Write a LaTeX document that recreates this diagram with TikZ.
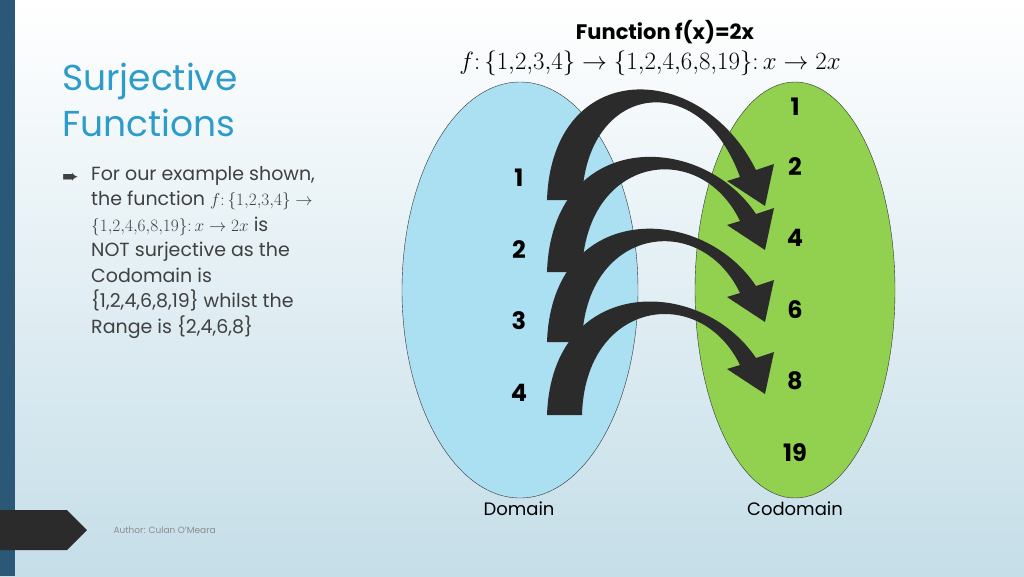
\documentclass[tikz,border=0pt]{standalone}
\usepackage{fontspec}
\setmainfont{Poppins}
\setsansfont{Poppins}
\newfontfamily\symfont{DejaVu Sans}
\definecolor{bgbot}{HTML}{C5DEE8}
\definecolor{barblue}{HTML}{2B5877}
\definecolor{titleblue}{HTML}{2E9CCB}
\definecolor{domblue}{HTML}{ABDFF2}
\definecolor{codgreen}{HTML}{92D050}
\definecolor{arrowgray}{HTML}{2B2B2B}
\tikzset{
  num/.style={font=\fontsize{24}{24}\selectfont\bfseries, text=black},
  setlabel/.style={font=\fontsize{18}{18}\selectfont, text=black},
  body/.style={font=\fontsize{19}{25.5}\selectfont, text=black!75, align=left, anchor=north west, inner sep=0pt}
}
% curved block arrow: base y, apex y, tip y
\newcommand{\maparrow}[3]{%
  \fill[arrowgray] (547,#1) .. controls (552,#2-30) and (700,#2-30) .. (756,#3-36)
    -- (774,#3-42) -- (765,#3) -- (727,#3-25) -- (740,#3-29)
    .. controls (700,#2-22) and (585,#2-5) .. (582,#1) -- cycle;}
\begin{document}
\begin{tikzpicture}[x=1pt,y=-1pt]
\shade[top color=white, bottom color=bgbot] (0,0) rectangle (1024,576);
\useasboundingbox (0,0) rectangle (1024,576);
\fill[barblue] (0,0) rectangle (15,576);
\fill[arrowgray] (0,510) -- (67,510) -- (87,530) -- (67,550) -- (0,550) -- cycle;
\node[font=\fontsize{9}{9}\selectfont, text=black!45, anchor=west] (author) at (110,530) {Author: Culan O'Meara};

% title and text
\node[font=\fontsize{36}{46}\selectfont, text=titleblue, align=left, anchor=north west, inner sep=0pt] (title) at (62,63) {Surjective\\Functions};
\node[font=\fontsize{20}{20}\selectfont\symfont, text=black!75, anchor=west, inner sep=0pt] (bullet) at (62,178) {➨};
\node[body] (text) at (91,166) {For our example shown,\\the function $f\colon\{1{,}2{,}3{,}4\}\rightarrow$\\$\{1{,}2{,}4{,}6{,}8{,}19\}\colon x\rightarrow 2x$ is\\NOT surjective as the\\Codomain is\\\{1,2,4,6,8,19\} whilst the\\Range is \{2,4,6,8\}};

\node[font=\fontsize{21}{21}\selectfont\bfseries] (ftitle) at (665,32) {Function f(x)=2x};
\node[font=\fontsize{24}{24}\selectfont] (fdef) at (650,63) {$f\colon\{1{,}2{,}3{,}4\}\rightarrow\{1{,}2{,}4{,}6{,}8{,}19\}\colon x\rightarrow 2x$};

% sets
\fill[domblue] (520,290) ellipse [x radius=118, y radius=208];
\fill[codgreen] (795,290) ellipse [x radius=100, y radius=208];
\begin{scope}
  \clip (520,290) ellipse [x radius=118, y radius=208];
  \clip (795,290) ellipse [x radius=100, y radius=208];
  \shade[top color=white, bottom color=bgbot] (0,0) rectangle (1024,576);
\end{scope}
\draw[black!80, thin] (520,290) ellipse [x radius=118, y radius=208];
\draw[black!80, thin] (795,290) ellipse [x radius=100, y radius=208];

\node[num] (d1) at (519,178) {1};
\node[num] (d2) at (519,250) {2};
\node[num] (d3) at (519,321) {3};
\node[num] (d4) at (519,393) {4};
\node[num] (c1) at (795,107) {1};
\node[num] (c2) at (795,167) {2};
\node[num] (c4) at (795,238) {4};
\node[num] (c6) at (795,310) {6};
\node[num] (c8) at (795,381) {8};
\node[num] (c19) at (795,453) {19};

\maparrow{200}{88}{206}
\maparrow{272}{160}{250}
\maparrow{342}{232}{322}
\maparrow{415}{305}{394}

\node[setlabel] (dom) at (519,509) {Domain};
\node[setlabel] (cod) at (795,509) {Codomain};
\end{tikzpicture}
\end{document}
